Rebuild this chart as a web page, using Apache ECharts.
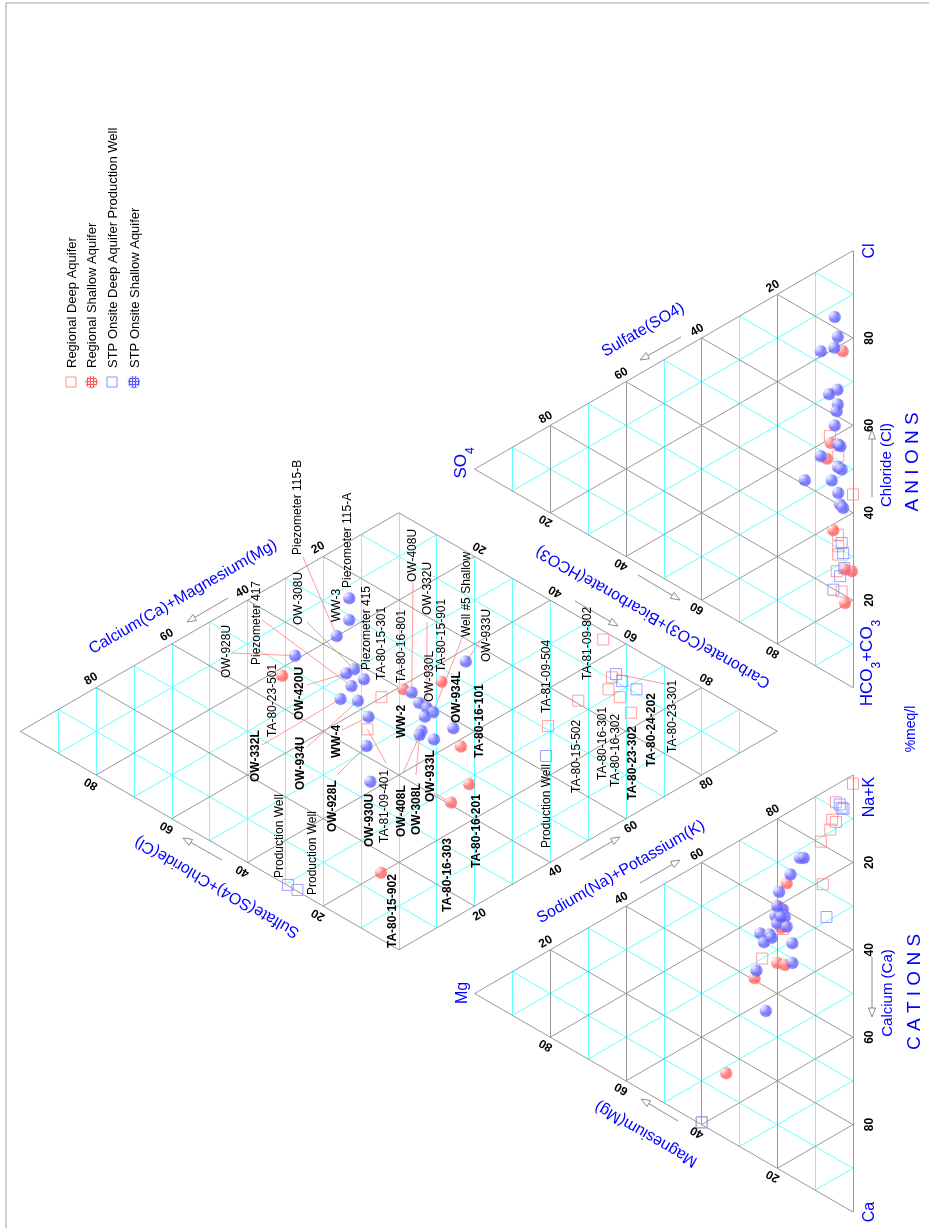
<!DOCTYPE html>
<html>
<head>
<meta charset="utf-8">
<script src="https://cdn.jsdelivr.net/npm/echarts@6/dist/echarts.min.js"></script>
<style>
  html, body { margin: 0; padding: 0; background: #fff; }
  #main { width: 929px; height: 1228px; }
</style>
</head>
<body>
<div id="main"></div>
<script>
// ---- data (percent of meq/l) ----
// cations: [Ca, Mg, Na+K]
const cationRegionalDeep = [[2, 0, 98], [4, 4.5, 91.5], [7.5, 5.5, 87], [8.5, 4.5, 87], [9.5, 6, 84.5], [11, 8.5, 80.5], [21, 8, 71], [30, 24, 46], [26, 18.5, 55.5], [59.5, 40, 0.5]];
const cationRegionalShallow = [[16, 17.5, 66.5], [20.5, 19.5, 60], [33, 20, 47], [34.5, 18, 47.5], [33.5, 26, 40.5], [51.5, 33.5, 15], [25.5, 19, 55.5]];
const cationStpDeep = [[6, 3, 91], [5, 3.5, 91.5], [6.5, 2.5, 91], [29, 7, 64], [59.5, 40, 0.5]];
const cationStpShallow = [[12, 14, 74], [12.5, 13, 74.5], [14.5, 16.5, 69], [17, 19.5, 63.5], [21.5, 18.5, 60], [22, 20.5, 57.5], [22, 19.5, 58.5], [23.5, 18, 58.5], [24, 20, 56], [26, 17.5, 56.5], [24, 24.5, 51.5], [25.5, 22, 52.5], [26.5, 23.5, 50], [26.5, 21.5, 52], [30.5, 16, 53.5], [35, 16, 49], [32, 25.5, 42.5], [42.5, 23, 34.5], [23, 19, 58], [20, 20, 60]];

// anions: [HCO3+CO3, SO4, Cl]
const anionRegionalDeep = [[39.4, 6.1, 54.5], [45.1, 3.9, 51], [55.8, 0, 44.2], [65.7, 3.9, 30.4], [67.6, 3.9, 28.5], [71.2, 4.3, 24.5], [76.5, 3, 20.5], [63, 4, 33]];
const anionRegionalShallow = [[21.7, 2.7, 75.6], [41.1, 5.9, 53], [44.2, 6.9, 48.9], [61.4, 5.2, 33.4], [73.2, 0.3, 26.5], [71.9, 2.1, 26], [79.6, 2.1, 18.3]];
const anionStpDeep = [[65.4, 3, 31.6], [67.9, 2.6, 29.5], [71.5, 2.3, 26.2], [72.8, 3.4, 23.8], [75, 5.2, 19.8]];
const anionStpShallow = [[12.8, 4.8, 82.4], [17.7, 4, 78.3], [18.8, 8.5, 72.7], [19.8, 4.9, 75.3], [29.8, 4.1, 66.1], [29.7, 6.3, 64], [33.2, 4, 62.8], [34.6, 4.3, 61.1], [37.6, 4.8, 57.6], [42.4, 3.9, 53.7], [42.8, 8.5, 48.7], [46.2, 12.7, 41.1], [49.8, 5.6, 44.6], [47.6, 3.9, 48.5], [53.5, 3.9, 42.6], [56.4, 3.4, 40.2], [43.1, 3.3, 53.6], [48.6, 3, 48.4], [57.6, 2.6, 39.8]];

// diamond: [Ca+Mg, SO4+Cl]
const diamondRegionalDeep = [[44.5, 60.1], [53.7, 54.6], [2, 44], [9.5, 34.2], [12.7, 31.9], [13, 28.6], [19.3, 33.3], [15.1, 23.6], [29.1, 31.5]];
const diamondRegionalShallow = [[52.7, 78.1], [39.8, 59], [33, 55.7], [45.3, 38.3], [52.8, 28.6], [59.4, 26.8], [84.7, 20]];
const diamondStpDeep = [[8.2, 34.4], [9, 32], [9, 28.2], [36.2, 24.9], [99.8, 29.5], [99.7, 27.1]];
const diamondStpShallow = [[26.1, 87], [31.1, 82], [36.4, 80], [46.4, 81], [41.7, 70.1], [43.7, 70.2], [42.7, 66.5], [45.9, 66.6], [50.3, 65.1], [48.4, 62.4], [50.7, 57.3], [57.6, 50.9], [65.3, 42.2], [39.4, 57.2], [40.8, 53.8], [40.9, 51.7], [41.1, 49.8], [43.2, 49.9], [46.9, 47.1], [48.1, 46.4], [47.2, 43.5], [42.1, 43.5], [25.2, 57.1]];

const tickValues = [20, 40, 60, 80];
const seriesNames = ['Regional Deep Aquifer', 'Regional Shallow Aquifer', 'STP Onsite Deep Aquifer Production Well', 'STP Onsite Shallow Aquifer'];

// sample labels in the diamond: text, bold, x, y of text start
const LABELS = [
  ['Piezometer 115-B', 0, 298, 555], ['Piezometer 115-A', 0, 348, 588], ['WW-3', 0, 337, 622],
  ['Piezometer 415', 0, 367, 670], ['OW-308U', 0, 299, 625], ['OW-928U', 0, 227, 678],
  ['Piezometer 417', 0, 257, 665], ['TA-80-23-501', 0, 273, 737], ['OW-420U', 1, 300, 720],
  ['OW-332L', 1, 256, 782], ['OW-934U', 1, 301, 790], ['WW-4', 1, 337, 758],
  ['OW-928L', 1, 333, 832], ['Production Well', 0, 280, 878], ['Production Well', 0, 313, 895],
  ['OW-930U', 1, 370, 847], ['TA-81-09-401', 0, 385, 843], ['OW-408L', 1, 402, 837],
  ['OW-308L', 1, 417, 835], ['OW-933L', 1, 431, 802], ['TA-80-15-902', 1, 393, 948],
  ['TA-80-16-303', 1, 448, 912], ['TA-80-16-201', 1, 477, 868], ['TA-80-16-101', 1, 480, 758],
  ['OW-934L', 1, 457, 723], ['WW-2', 1, 402, 738], ['TA-80-15-301', 0, 382, 680],
  ['TA-80-16-801', 0, 402, 683], ['OW-408U', 0, 413, 582], ['OW-332U', 0, 428, 615],
  ['OW-930L', 0, 430, 702], ['TA-80-15-901', 0, 442, 672], ['Well #5 Shallow', 0, 467, 637],
  ['OW-933U', 0, 487, 662], ['TA-81-09-504', 0, 547, 713], ['TA-81-09-802', 0, 588, 680],
  ['TA-80-15-502', 0, 577, 793], ['TA-80-16-301', 0, 603, 780], ['TA-80-16-302', 0, 616, 787],
  ['TA-80-23-302', 1, 633, 800], ['TA-80-24-202', 1, 652, 767], ['TA-80-23-301', 0, 673, 753],
  ['Production Well', 0, 547, 848]
];
// leader lines: start pixel -> diamond point (group, index)
const LEADERS = [
  [[232, 653], 'SS', 3], [[262, 620], 'SS', 7], [[307, 622], 'SS', 4], [[303, 557], 'SS', 2],
  [[307, 685], 'SS', 5], [[262, 745], 'SS', 8], [[307, 747], 'SS', 9], [[342, 730], 'SS', 10],
  [[337, 775], 'SS', 11], [[386, 763], 'RD', 1], [[403, 773], 'SS', 18], [[416, 775], 'SS', 19],
  [[434, 793], 'RS', 5], [[413, 583], 'SS', 13], [[427, 622], 'SS', 15], [[462, 638], 'SS', 16],
  [[480, 642], 'SS', 22], [[670, 685], 'SD', 0]
];

// ---- geometry (triangle side = 100 units) ----
const H = Math.sqrt(3) / 2;
const GAP = 20;
function cationXY(p) { return [p[1] * H, p[2] + p[1] / 2]; }
function anionXY(p) { return [p[1] * H, 100 + GAP + p[2] + p[1] / 2]; }
function diamondXY(p) { return [GAP * H + (p[0] + p[1]) * H, 100 + GAP / 2 - p[0] / 2 + p[1] / 2]; }

const K = 4.37, X0 = 853, Y0 = 1212;
const V_MIN = -17, V_MAX = 192, U_MIN = -3, U_MAX = 275;

const cyanSegs = [], graySegs = [];
for (let p = 10; p < 100; p += 10) {
  const list = p % 20 === 0 ? graySegs : cyanSegs;
  list.push([cationXY([100 - p, p, 0]), cationXY([0, p, 100 - p])]);
  list.push([cationXY([100 - p, 0, p]), cationXY([0, 100 - p, p])]);
  list.push([cationXY([p, 0, 100 - p]), cationXY([p, 100 - p, 0])]);
  list.push([anionXY([100 - p, p, 0]), anionXY([0, p, 100 - p])]);
  list.push([anionXY([100 - p, 0, p]), anionXY([0, 100 - p, p])]);
  list.push([anionXY([p, 0, 100 - p]), anionXY([p, 100 - p, 0])]);
  list.push([diamondXY([p, 0]), diamondXY([p, 100])]);
  list.push([diamondXY([0, p]), diamondXY([100, p])]);
}
for (let s = 10; s < 200; s += 10) {
  const a = s <= 100 ? [s, 0] : [100, s - 100];
  const b = s <= 100 ? [0, s] : [s - 100, 100];
  cyanSegs.push([diamondXY(a), diamondXY(b)]);
}
const cCa = cationXY([100, 0, 0]), cMg = cationXY([0, 100, 0]), cNa = cationXY([0, 0, 100]);
const aHc = anionXY([100, 0, 0]), aSo = anionXY([0, 100, 0]), aCl = anionXY([0, 0, 100]);
const dR = diamondXY([0, 0]), dB = diamondXY([100, 0]), dL = diamondXY([100, 100]), dT = diamondXY([0, 100]);
graySegs.push([cCa, cMg], [cMg, cNa], [cNa, cCa], [aHc, aSo], [aSo, aCl], [aCl, aHc], [dR, dB], [dB, dL], [dL, dT], [dT, dR]);

function hatch(bg, fg) {
  const c = document.createElement('canvas');
  c.width = 3; c.height = 3;
  const g = c.getContext('2d');
  g.fillStyle = bg; g.fillRect(0, 0, 3, 3);
  g.fillStyle = fg; g.fillRect(0, 0, 3, 1); g.fillRect(0, 0, 1, 3);
  return { image: c, repeat: 'repeat' };
}
const redHatch = hatch('#ffe4e4', '#ff5a5a');
const blueHatch = hatch('#e4e4ff', '#5a5aff');
const RED_SQ = '#ff8a8a', BLUE_SQ = '#8a8aff';

function pts(cat, an, dia) {
  return cat.map(cationXY).concat(an.map(anionXY), dia.map(diamondXY));
}
const groups = {
  RD: diamondRegionalDeep, RS: diamondRegionalShallow, SD: diamondStpDeep, SS: diamondStpShallow
};

const chart = echarts.init(document.getElementById('main'));
chart.setOption({
  animation: false,
  backgroundColor: '#fff',
  grid: {
    left: X0 - V_MAX * K, right: 929 - (X0 - V_MIN * K),
    top: Y0 - U_MAX * K, bottom: 1228 - (Y0 - U_MIN * K)
  },
  xAxis: { type: 'value', min: V_MIN, max: V_MAX, inverse: true, show: false },
  yAxis: { type: 'value', min: U_MIN, max: U_MAX, show: false },
  series: [
    { type: 'lines', coordinateSystem: 'cartesian2d', silent: true, z: 1,
      data: cyanSegs.map(s => ({ coords: s })), lineStyle: { color: '#66ffff', width: 1, opacity: 1 } },
    { type: 'lines', coordinateSystem: 'cartesian2d', silent: true, z: 2,
      data: graySegs.map(s => ({ coords: s })), lineStyle: { color: '#999999', width: 1, opacity: 1 } },
    { name: seriesNames[0], type: 'scatter', z: 5, symbol: 'rect', symbolSize: 11,
      data: pts(cationRegionalDeep, anionRegionalDeep, diamondRegionalDeep),
      itemStyle: { color: 'rgba(255,255,255,0)', borderColor: RED_SQ, borderWidth: 1 } },
    { name: seriesNames[1], type: 'scatter', z: 6, symbol: 'circle', symbolSize: 12,
      data: pts(cationRegionalShallow, anionRegionalShallow, diamondRegionalShallow),
      itemStyle: { color: redHatch, borderColor: 'rgba(255,110,110,0.5)', borderWidth: 0.5 } },
    { name: seriesNames[2], type: 'scatter', z: 7, symbol: 'rect', symbolSize: 11,
      data: pts(cationStpDeep, anionStpDeep, diamondStpDeep),
      itemStyle: { color: 'rgba(255,255,255,0)', borderColor: BLUE_SQ, borderWidth: 1 } },
    { name: seriesNames[3], type: 'scatter', z: 8, symbol: 'circle', symbolSize: 12,
      data: pts(cationStpShallow, anionStpShallow, diamondStpShallow),
      itemStyle: { color: blueHatch, borderColor: 'rgba(110,110,255,0.5)', borderWidth: 0.5 } }
  ]
});

// ---- annotations ----
const FONT = '"Liberation Sans", Arial, Helvetica, sans-serif';
const toPx = p => chart.convertToPixel({ gridIndex: 0 }, p);
const deg = d => d * Math.PI / 180;
function text(str, x, y, o) {
  o = o || {};
  return {
    type: 'text', x: x, y: y, rotation: deg(o.rot == null ? 90 : o.rot), silent: true, z: 100,
    style: {
      text: str, fill: o.color || '#000', fontFamily: FONT, fontSize: o.size || 12,
      fontWeight: o.bold ? 'bold' : 'normal', align: o.align || 'center',
      verticalAlign: o.va || 'middle', rich: o.rich
    }
  };
}
const g = [];
// frame
g.push({ type: 'line', silent: true, shape: { x1: 6, y1: 3, x2: 929, y2: 3 }, style: { stroke: '#a0a0a0', lineWidth: 1 } });
g.push({ type: 'line', silent: true, shape: { x1: 6, y1: 3, x2: 6, y2: 1228 }, style: { stroke: '#a0a0a0', lineWidth: 1 } });

// tick labels along edges
function edgeTicks(A, B, inside, labelOf, off, rot) {
  const pa = toPx(A), pb = toPx(B), pc = toPx(inside);
  const dx = pb[0] - pa[0], dy = pb[1] - pa[1], L = Math.hypot(dx, dy);
  let nx = -dy / L, ny = dx / L;
  const mx = (pa[0] + pb[0]) / 2, my = (pa[1] + pb[1]) / 2;
  if ((pc[0] - mx) * nx + (pc[1] - my) * ny > 0) { nx = -nx; ny = -ny; }
  tickValues.forEach(v => {
    const t = v / 100;
    const q = toPx([A[0] + (B[0] - A[0]) * t, A[1] + (B[1] - A[1]) * t]);
    g.push(text(String(labelOf(v)), q[0] + nx * off, q[1] + ny * off, { rot: rot, bold: true }));
  });
}
const cIn = cationXY([34, 33, 33]), aIn = anionXY([34, 33, 33]), dIn = diamondXY([50, 50]);
edgeTicks(cCa, cNa, cIn, v => 100 - v, 17, 90);
edgeTicks(cCa, cMg, cIn, v => v, 9, 150);
edgeTicks(cMg, cNa, cIn, v => v, 9, 30);
edgeTicks(aHc, aCl, aIn, v => v, 17, 90);
edgeTicks(aHc, aSo, aIn, v => 100 - v, 9, 150);
edgeTicks(aSo, aCl, aIn, v => 100 - v, 9, 30);
edgeTicks(dL, dT, dIn, v => 100 - v, 10, 30);
edgeTicks(dL, dB, dIn, v => 100 - v, 10, 150);
edgeTicks(dT, dR, dIn, v => v, 10, 150);
edgeTicks(dB, dR, dIn, v => v, 10, 30);

// arrows (head at second point)
function arrow(p1, p2) {
  const dx = p2[0] - p1[0], dy = p2[1] - p1[1], L = Math.hypot(dx, dy);
  const ux = dx / L, uy = dy / L, hl = 9, hw = 3.5;
  const bx = p2[0] - ux * hl, by = p2[1] - uy * hl;
  g.push({ type: 'line', silent: true, z: 90, shape: { x1: p1[0], y1: p1[1], x2: bx, y2: by }, style: { stroke: '#8c8c8c', lineWidth: 1 } });
  g.push({ type: 'polygon', silent: true, z: 90,
    shape: { points: [p2, [bx - uy * hw, by + ux * hw], [bx + uy * hw, by - ux * hw]] },
    style: { fill: '#fff', stroke: '#8c8c8c', lineWidth: 1 } });
}
arrow([872, 957], [872, 1017]);
arrow([872, 497], [872, 430]);
arrow([678, 1121], [641, 1099]);
arrow([640, 883], [680, 860]);
arrow([580, 860], [620, 837]);
arrow([638, 575], [680, 600]);
arrow([575, 601], [618, 626]);
arrow([681, 337], [640, 360]);
arrow([228, 598], [187, 622]);
arrow([222, 860], [183, 838]);

// axis titles
const BLUE = '#0000ff';
g.push(text('Calcium(Ca)+Magnesium(Mg)', 183, 597, { rot: 30, size: 16, color: BLUE }));
g.push(text('Sulfate(SO4)+Chloride(Cl)', 217, 887, { rot: 150, size: 16, color: BLUE }));
g.push(text('Sodium(Na)+Potassium(K)', 621, 872, { rot: 30, size: 16, color: BLUE }));
g.push(text('Carbonate(CO3)+Bicarbonate(HCO3)', 653, 617, { rot: 150, size: 16, color: BLUE }));
g.push(text('Sulfate(SO4)', 643, 330, { rot: 30, size: 16, color: BLUE }));
g.push(text('Magnesium(Mg)', 646, 1134, { rot: 150, size: 16, color: BLUE }));
g.push(text('Calcium (Ca)', 888, 993, { size: 15, color: BLUE }));
g.push(text('Chloride (Cl)', 887, 465, { size: 15, color: BLUE }));
g.push(text('C A T I O N S', 915, 992, { size: 19, color: BLUE }));
g.push(text('A N I O N S', 913, 462, { size: 19, color: BLUE }));
g.push(text('Ca', 870, 1212, { size: 16, color: BLUE }));
g.push(text('Na+K', 870, 797, { size: 16, color: BLUE }));
g.push(text('Cl', 870, 251, { size: 16, color: BLUE }));
g.push(text('Mg', 463, 993, { size: 16, color: BLUE }));
g.push(text('%meq/l', 911, 729, { size: 14, color: BLUE }));
const subRich = {
  n: { fontSize: 17, fill: BLUE, fontFamily: FONT, lineHeight: 24, verticalAlign: 'top' },
  s: { fontSize: 12, fill: BLUE, fontFamily: FONT, lineHeight: 24, verticalAlign: 'bottom' }
};
g.push(text('{n|SO}{s|4}', 465, 463, { color: BLUE, rich: subRich }));
g.push(text('{n|HCO}{s|3}{n|+CO}{s|3}', 871, 663, { color: BLUE, rich: subRich }));

// legend
const LEG_X = [71, 91.5, 112, 134], LEG_Y = 382;
const legStyle = [
  { type: 'rect', st: { fill: 'none', stroke: RED_SQ, lineWidth: 1 } },
  { type: 'circle', st: { fill: redHatch, stroke: 'rgba(255,110,110,0.5)', lineWidth: 0.5 } },
  { type: 'rect', st: { fill: 'none', stroke: BLUE_SQ, lineWidth: 1 } },
  { type: 'circle', st: { fill: blueHatch, stroke: 'rgba(110,110,255,0.5)', lineWidth: 0.5 } }
];
seriesNames.forEach((nm, i) => {
  const x = LEG_X[i], ls = legStyle[i];
  if (ls.type === 'rect') {
    g.push({ type: 'rect', silent: true, shape: { x: x - 5, y: LEG_Y - 5, width: 10, height: 10 }, style: ls.st });
  } else {
    g.push({ type: 'circle', silent: true, shape: { cx: x, cy: LEG_Y, r: 6 }, style: ls.st });
  }
  g.push(text(nm, x + 1, LEG_Y - 14, { size: 13, align: 'left' }));
});

// sample labels and leader lines
LABELS.forEach(l => g.push(text(l[0], l[2], l[3], { bold: !!l[1], align: 'left' })));
LEADERS.forEach(l => {
  const q = toPx(diamondXY(groups[l[1]][l[2]]));
  g.push({ type: 'line', silent: true, z: 4, shape: { x1: l[0][0], y1: l[0][1], x2: q[0], y2: q[1] },
    style: { stroke: '#ff8080', lineWidth: 0.8 } });
});

chart.setOption({ graphic: { elements: g } });
</script>
</body>
</html>
